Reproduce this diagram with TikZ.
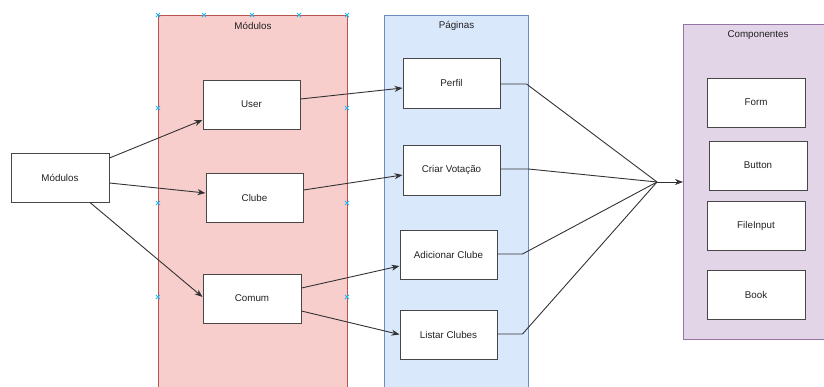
\documentclass[tikz,border=0pt]{standalone}
\usepackage{fontspec}
\setmainfont{Liberation Sans}
\usetikzlibrary{calc,arrows.meta}
\definecolor{redfill}{HTML}{F8CECC}
\definecolor{redline}{HTML}{B85450}
\definecolor{bluefill}{HTML}{DAE8FC}
\definecolor{blueline}{HTML}{6C8EBF}
\definecolor{purfill}{HTML}{E1D5E7}
\definecolor{purline}{HTML}{9673A6}
\definecolor{handle}{HTML}{29B6F2}
\definecolor{txt}{HTML}{222222}
\begin{document}
\begin{tikzpicture}[x=1pt,y=-1pt,
  font=\fontsize{9.8}{12}\selectfont,
  every node/.style={text=txt},
  container/.style={rectangle,draw,line width=1pt,inner sep=0pt},
  box/.style={rectangle,draw=black!72,fill=white,line width=1pt,minimum width=97pt,minimum height=49pt,inner sep=0pt},
  conn/.style={draw=black!80,line width=0.9pt},
  arr/.style={conn,-{Stealth[length=8pt,width=6pt,inset=2.5pt]}},
  hcross/.style={draw=handle,line width=0.8pt}
]
\useasboundingbox (0,0) rectangle (824,386);
\begin{scope}
\clip (0,0) rectangle (824,386);
% containers
\node[container,draw=redline,fill=redfill,minimum width=189pt,minimum height=380pt,anchor=north west] (modc) at (158,15) {};
\node[container,draw=blueline,fill=bluefill,minimum width=144pt,minimum height=380pt,anchor=north west] (pagc) at (384,15) {};
\node[container,draw=purline,fill=purfill,minimum width=150pt,minimum height=315pt,anchor=north west] (compc) at (683,24) {};
\end{scope}
\node (modl) at ($(modc.north)+(0,11)$) {Módulos};
\node (pagl) at ($(pagc.north)+(0,11)$) {Páginas};
\node (compl) at (758,35) {Componentes};

% selection handles
\foreach \p in {(158,15),(204,15),(252,15),(299,15),(347,15),(158,108),(158,203),(158,297),(347,108),(347,203),(347,297)}{
  \draw[hcross] \p ++(-2,-2) -- ++(4,4) \p ++(-2,2) -- ++(4,-4);
}

% nodes
\node[box,minimum width=98pt] (mod) at (60,177.5) {Módulos};
\node[box] (user) at (251.5,104.5) {User};
\node[box] (clube) at (254.5,197.5) {Clube};
\node[box,minimum width=98pt] (comum) at (252,298.5) {Comum};
\node[box,minimum height=50pt] (perfil) at (451.5,83) {Perfil};
\node[box,minimum height=50pt] (criar) at (451.5,170) {Criar Votação};
\node[box] (adic) at (448.5,254.5) {Adicionar Clube};
\node[box] (listar) at (448.5,334.5) {Listar Clubes};
\node[box,minimum width=98pt] (form) at (756,102.5) {Form};
\node[box,minimum width=98pt] (button) at (758,165.5) {Button};
\node[box,minimum width=98pt] (fileinput) at (756,225.5) {FileInput};
\node[box,minimum width=98pt] (book) at (756,294.5) {Book};

% connectors
\draw[arr] ($(mod.east)+(0,-19.5)$) -- ($(user.west)+(0,15.5)$);
\draw[arr] ($(mod.east)+(0,5.5)$) -- ($(clube.west)+(0,-4.5)$);
\draw[arr] ($(mod.south)+(30,0)$) -- ($(comum.west)+(0,-1.5)$);
\draw[arr] ($(user.east)+(0,-5.5)$) -- ($(perfil.west)+(0,5)$);
\draw[arr] ($(clube.east)+(0,-7.5)$) -- ($(criar.west)+(0,5)$);
\draw[arr] ($(comum.east)+(0,-10.5)$) -- ($(adic.west)+(0,11.5)$);
\draw[arr] ($(comum.east)+(0,12.5)$) -- (listar.west);

\coordinate (m) at (657,182);
\draw[conn] ($(perfil.east)+(0,1)$) -- ++(26,0) -- (m);
\draw[conn] ($(criar.east)+(0,-1)$) -- ++(28,0) -- (m);
\draw[conn] ($(adic.east)+(0,-0.5)$) -- ++(25,0) -- (m);
\draw[conn] ($(listar.east)+(0,-0.5)$) -- ++(25,0) -- (m);
\draw[arr] (m) -- (m -| compc.west);
\end{tikzpicture}
\end{document}
